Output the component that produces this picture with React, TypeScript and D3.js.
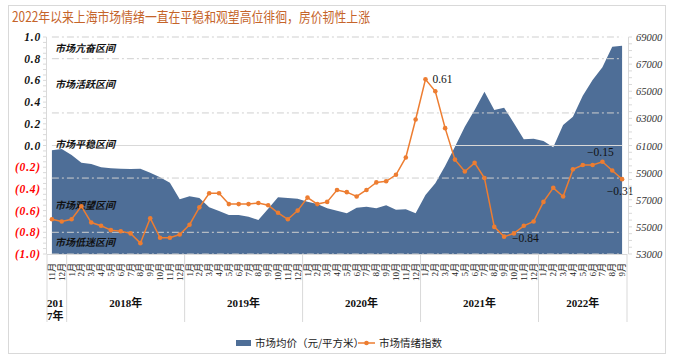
import React from "react";
import * as d3 from "d3";

// categories: Nov 2017 .. Sep 2022
const monthLabels = [
  "11月", "12月",
  "1月", "2月", "3月", "4月", "5月", "6月", "7月", "8月", "9月", "10月", "11月", "12月",
  "1月", "2月", "3月", "4月", "5月", "6月", "7月", "8月", "9月", "10月", "11月", "12月",
  "1月", "2月", "3月", "4月", "5月", "6月", "7月", "8月", "9月", "10月", "11月", "12月",
  "1月", "2月", "3月", "4月", "5月", "6月", "7月", "8月", "9月", "10月", "11月", "12月",
  "1月", "2月", "3月", "4月", "5月", "6月", "7月", "8月", "9月",
];
const yearLabels = ["2017年", "2018年", "2019年", "2020年", "2021年", "2022年"];
const yearMonthCounts = [2, 12, 12, 12, 12, 9];

// 市场均价（元/平方米）
const priceValues = [
  60650, 60740, 60300, 59730, 59640, 59390, 59320, 59290, 59270, 59290,
  58990, 58650, 58260, 57030, 57250, 57130, 56440, 56170, 55880, 55880,
  55750, 55510, 56340, 57180, 57130, 57080, 56860, 56690, 56370, 56180,
  56000, 56410, 56490, 56370, 56590, 56270, 56300, 56000, 57350, 58210,
  59490, 60910, 62390, 63620, 64970, 63620, 63790, 62640, 61460, 61500,
  61330, 60870, 62510, 63120, 64670, 65830, 66770, 68290, 68360,
];

// 市场情绪指数
const moodValues = [
  -0.68, -0.70, -0.68, -0.56, -0.71, -0.74, -0.78, -0.79, -0.81, -0.90,
  -0.67, -0.85, -0.85, -0.82, -0.73, -0.57, -0.44, -0.44, -0.54, -0.54,
  -0.54, -0.53, -0.55, -0.62, -0.68, -0.60, -0.48, -0.54, -0.52, -0.41,
  -0.43, -0.47, -0.41, -0.34, -0.33, -0.27, -0.11, 0.24, 0.61, 0.50,
  0.16, -0.13, -0.24, -0.16, -0.30, -0.75, -0.84, -0.81, -0.74, -0.70,
  -0.52, -0.39, -0.47, -0.22, -0.18, -0.18, -0.15, -0.23, -0.31,
];

const leftTicks = [1.0, 0.8, 0.6, 0.4, 0.2, 0.0, -0.2, -0.4, -0.6, -0.8, -1.0];
const rightTicks = [69000, 67000, 65000, 63000, 61000, 59000, 57000, 55000, 53000];
const zoneLines = [1.0, 0.8, 0.3, -0.3, -0.8, -1.0];
const zoneNames = ["市场亢奋区间", "市场活跃区间", "市场平稳区间", "市场观望区间", "市场低迷区间"];
const zoneNameValues = [0.9, 0.57, 0.01, -0.55, -0.89];
const labelledIdx = [38, 46, 56, 58];

const W = 675, H = 364;
const serif = "'Liberation Serif', 'Noto Sans CJK SC', serif";
const cjk = "'Noto Sans CJK SC', sans-serif";

export default function App() {
  const x = d3.scaleBand<number>().domain(d3.range(monthLabels.length)).range([47, 627]);
  const bw = x.bandwidth();
  const cx = (i: number) => (x(i) as number) + bw / 2;
  const yL = d3.scaleLinear().domain([-1, 1]).range([254, 37]);
  const yR = d3.scaleLinear().domain([53000, 69000]).range([254, 37]);
  const x0 = cx(0), x1 = cx(monthLabels.length - 1);

  const area = d3.area<number>().x((d, i) => cx(i)).y0(yR(53000)).y1((d) => yR(d));
  const line = d3.line<number>().x((d, i) => cx(i)).y((d) => yL(d));

  const fmtL = (v: number) => (v < 0 ? `(${Math.abs(v).toFixed(1)})` : v.toFixed(1));
  const minorL = d3.range(-1, 1.0001, 0.05);
  const minorR = d3.range(53000, 69001, 500);

  // year group boundaries
  const cum: number[] = [0];
  yearMonthCounts.forEach((c) => cum.push(cum[cum.length - 1] + c));

  const labelPos = (i: number) => {
    const px = cx(i), py = yL(moodValues[i]);
    const txt = moodValues[i] < 0 ? "\u2212" + Math.abs(moodValues[i]).toFixed(2) : moodValues[i].toFixed(2);
    if (i === 38) return { x: px + 7, y: py + 4, anchor: "start", txt };
    if (i === 46) return { x: px + 8, y: py + 5, anchor: "start", txt };
    if (i === 56) return { x: px - 2, y: py - 6, anchor: "middle", txt };
    return { x: px - 2, y: py + 16, anchor: "middle", txt };
  };

  return (
    <svg width={W} height={H} style={{ position: "absolute", left: 0, top: 0 }}>
      <rect x={8.5} y={5.5} width={657} height={348} fill="#fff" stroke="#d9d9d9" />
      <text x={12} y={22} fontFamily={cjk} fontSize={14} fill="#c5642a" textLength={358} lengthAdjust="spacingAndGlyphs">
        2022年以来上海市场情绪一直在平稳和观望高位徘徊，房价韧性上涨
      </text>

      {/* price area */}
      <path d={area(priceValues) || ""} fill="#4e6e97" />

      {/* zone lines */}
      {zoneLines.map((v) => (
        <line key={v} x1={x0} x2={x1} y1={yL(v)} y2={yL(v)} stroke="#cfcfcf" strokeWidth={1} strokeDasharray="7 3 2 3" />
      ))}
      <line x1={x0} x2={x1} y1={yL(0)} y2={yL(0)} stroke="#d9d9d9" strokeWidth={1} />

      {zoneNames.map((n, i) => (
        <text key={n} x={55} y={yL(zoneNameValues[i]) + 4} fontFamily={cjk} fontSize={10} fontStyle="italic" fontWeight={600} fill="#111">
          {n}
        </text>
      ))}

      {/* mood line */}
      <path d={line(moodValues) || ""} fill="none" stroke="#ed7d31" strokeWidth={1.5} />
      {moodValues.map((v, i) => (
        <circle key={i} cx={cx(i)} cy={yL(v)} r={2.3} fill="#ed7d31" />
      ))}
      {labelledIdx.map((i) => {
        const p = labelPos(i);
        return (
          <text key={i} x={p.x} y={p.y} textAnchor={p.anchor as any} fontFamily={serif} fontSize={11.5} fill="#111">
            {p.txt}
          </text>
        );
      })}

      {/* left axis */}
      <line x1={46.5} x2={46.5} y1={yL(1)} y2={yL(-1)} stroke="#d9d9d9" />
      {minorL.map((v, i) => (
        <line key={i} x1={43} x2={46.5} y1={yL(v)} y2={yL(v)} stroke="#d9d9d9" />
      ))}
      {leftTicks.map((v) => (
        <text key={v} x={41} y={yL(v) + 4} textAnchor="end" fontFamily={serif} fontSize={11.5} fontStyle="italic" fontWeight="bold" letterSpacing={0.8} fill={v < 0 ? "#ff0000" : "#111"}>
          {fmtL(v)}
        </text>
      ))}

      {/* right axis */}
      <line x1={628.5} x2={628.5} y1={yR(69000)} y2={yR(53000)} stroke="#d9d9d9" />
      {minorR.map((v, i) => (
        <line key={i} x1={628.5} x2={632} y1={yR(v)} y2={yR(v)} stroke="#d9d9d9" />
      ))}
      {rightTicks.map((v) => (
        <text key={v} x={636} y={yR(v) + 4} fontFamily={serif} fontSize={10.5} fontStyle="italic" fill="#333">
          {v}
        </text>
      ))}

      {/* category axis */}
      <line x1={47} x2={627} y1={254.5} y2={254.5} stroke="#d9d9d9" />
      {monthLabels.map((m, i) => (
        <text key={i} transform={`translate(${cx(i) + 3},263) rotate(-90)`} textAnchor="end" fontFamily={serif} fontSize={9} fill="#222">
          {m}
        </text>
      ))}
      {cum.map((c, i) => (
        <line key={i} x1={x(Math.min(c, monthLabels.length - 1))! + (c === monthLabels.length ? bw : 0)} x2={x(Math.min(c, monthLabels.length - 1))! + (c === monthLabels.length ? bw : 0)} y1={254} y2={322} stroke="#d9d9d9" />
      ))}
      {yearLabels.map((yl, i) => {
        const a = x(cum[i]) as number;
        const b = (x(cum[i + 1] - 1) as number) + bw;
        if (i === 0) {
          return (
            <text key={yl} x={a} y={307} fontFamily={serif} fontSize={11} fontWeight="bold" fill="#111">
              <tspan x={a}>{yl.slice(0, 3)}</tspan>
              <tspan x={a} dy={13}>{yl.slice(3)}</tspan>
            </text>
          );
        }
        return (
          <text key={yl} x={(a + b) / 2} y={307} textAnchor="middle" fontFamily={serif} fontSize={11} fontWeight="bold" fill="#111">
            {yl}
          </text>
        );
      })}

      {/* legend */}
      <rect x={236} y={340} width={15} height={6} fill="#4e6e97" />
      <text x={255} y={347} fontFamily={cjk} fontSize={10.5} fill="#222">市场均价（元/平方米）</text>
      <line x1={358} x2={375} y1={343} y2={343} stroke="#ed7d31" strokeWidth={1.5} />
      <circle cx={366.5} cy={343} r={2.3} fill="#ed7d31" />
      <text x={379} y={347} fontFamily={cjk} fontSize={10.5} fill="#222">市场情绪指数</text>
    </svg>
  );
}
